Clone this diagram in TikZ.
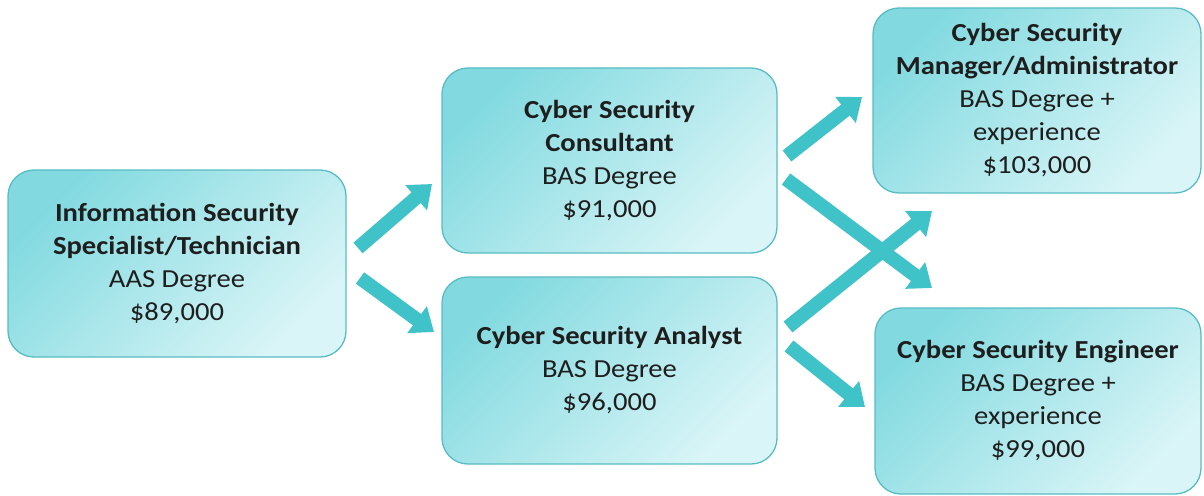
\documentclass[tikz,border=0pt]{standalone}
\usepackage{fontspec}
\setmainfont{Carlito}[FakeStretch=1.1]
\usetikzlibrary{arrows.meta}
\definecolor{boxdark}{HTML}{82DAE0}
\definecolor{boxlight}{HTML}{DAF5F7}
\definecolor{boxline}{HTML}{58BCC4}
\definecolor{arrowc}{HTML}{3FC3C9}
\definecolor{txt}{HTML}{1E1E1E}
\tikzset{
  box/.style={draw=boxline, line width=1.3pt, rounded corners=26pt,
    top color=boxdark, bottom color=boxlight, shading angle=45,
    align=center, text=txt, inner sep=0pt,
    font=\fontsize{26}{33}\selectfont},
  arr/.style={draw=arrowc, line width=14pt,
    -{Triangle[width=32pt,length=21pt]}, fill=arrowc}
}
\begin{document}
\begin{tikzpicture}[x=1pt,y=-1pt]
\useasboundingbox (0,0) rectangle (1204,495);
\node[box, minimum width=338pt, minimum height=187pt] (n1) at (177,263.5)
  {\textbf{Information Security}\\\textbf{Specialist/Technician}\\AAS Degree\\\$89,000};
\node[box, minimum width=335pt, minimum height=185pt] (n2) at (609.5,160.5)
  {\textbf{Cyber Security}\\\textbf{Consultant}\\BAS Degree\\\$91,000};
\node[box, minimum width=335pt, minimum height=187pt] (n3) at (609.5,370.5)
  {\textbf{Cyber Security Analyst}\\BAS Degree\\\$96,000};
\node[box, minimum width=328pt, minimum height=185pt] (n4) at (1037,100.5)
  {\textbf{Cyber Security}\\\textbf{Manager/Administrator}\\BAS Degree +\\experience\\\$103,000};
\node[box, minimum width=326pt, minimum height=186pt] (n5) at (1038,401)
  {\textbf{Cyber Security Engineer}\\BAS Degree +\\experience\\\$99,000};
% arrow end points
\coordinate (a1s) at (358,248);
\coordinate (a1e) at (432,184);
\coordinate (a2s) at (360,278);
\coordinate (a2e) at (434,332);
\coordinate (a3s) at (787,156);
\coordinate (a3e) at (862,97);
\coordinate (a4s) at (786,179);
\coordinate (a4e) at (932,288);
\coordinate (a5s) at (788,327);
\coordinate (a5e) at (932,211);
\coordinate (a6s) at (789,346);
\coordinate (a6e) at (865,407);
\draw[arr] (a1s) -- (a1e);
\draw[arr] (a2s) -- (a2e);
\draw[arr] (a3s) -- (a3e);
\draw[arr] (a4s) -- (a4e);
\draw[arr] (a5s) -- (a5e);
\draw[arr] (a6s) -- (a6e);
\end{tikzpicture}
\end{document}
